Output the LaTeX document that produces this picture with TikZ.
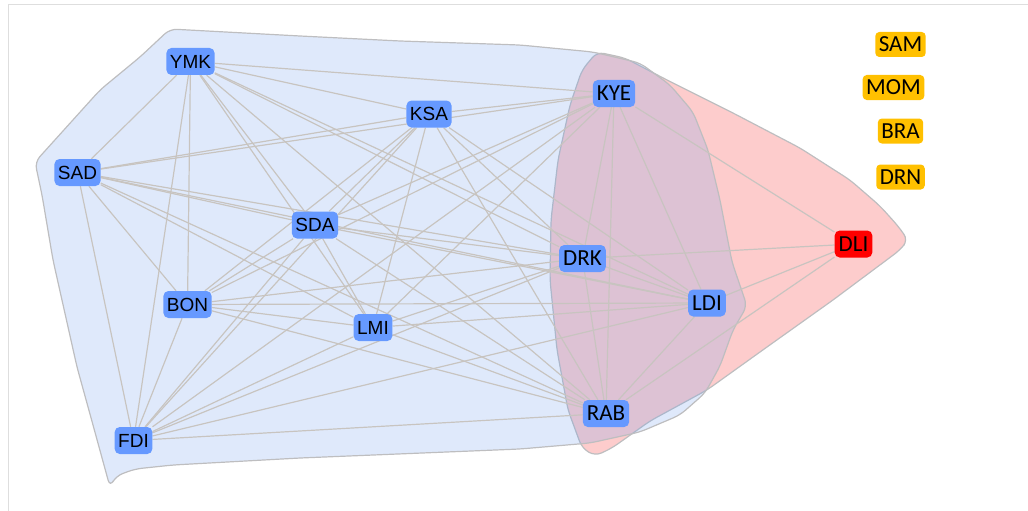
\documentclass[tikz,border=0pt]{standalone}
\usepackage{fontspec}
\setmainfont{Liberation Sans}
\newfontfamily\carl{Carlito}
\definecolor{edgegray}{RGB}{200,196,192}
\definecolor{hullline}{RGB}{190,190,192}
\definecolor{hullblue}{RGB}{116,161,239}
\definecolor{hullpink}{RGB}{253,204,204}
\definecolor{nodeblue}{RGB}{102,153,255}
\definecolor{nodeorange}{RGB}{255,192,0}
\definecolor{framegray}{RGB}{222,222,222}
\pgfdeclarelayer{back}
\pgfsetlayers{back,main}
\tikzset{
  edge/.style={draw=edgegray, line width=1.2pt},
  hull/.style={draw=hullline, line width=1.2pt, rounded corners=7pt},
  bnode/.style={fill=nodeblue, rounded corners=5pt, minimum height=27pt, inner xsep=3.5pt, inner ysep=0pt, text=black, font=\fontsize{19}{19}\selectfont},
  cnode/.style={bnode, inner xsep=4pt, font=\carl\fontsize{23}{23}\selectfont},
  rnode/.style={cnode, fill=red},
  onode/.style={cnode, fill=nodeorange, minimum height=25pt, rounded corners=4pt, inner xsep=3.5pt}
}
\begin{document}
\begin{tikzpicture}[x=1pt,y=-1pt]
\useasboundingbox (0,0) rectangle (1028,511);
\draw[framegray, line width=1pt] (8,511) -- (8,5) -- (1028,5);
% hulls
\begin{pgfonlayer}{back}
\path[hull, fill=hullpink]
 (597,52) -- (625,58) -- (667,80) -- (733,113) -- (800,148) -- (850,180) -- (880,206) -- (898,226) -- (908,240) -- (900,250)
 -- (833,300) -- (767,347) -- (707,390) -- (650,421) -- (612,448) -- (595,456) -- (582,448) -- (568,410)
 -- (557,350) -- (550,280) -- (551,220) -- (558,160) -- (570,105) -- (582,70) -- cycle;
\path[hull, fill=hullblue, fill opacity=0.23]
 (170,29) -- (300,36) -- (400,41) -- (520,45) -- (593,52) -- (640,63) -- (670,85) -- (693,112) -- (708,150)
 -- (720,200) -- (732,262) -- (747,306) -- (733,330) -- (720,366) -- (705,393) -- (680,415) -- (640,432)
 -- (590,443) -- (520,449) -- (300,458) -- (173,465) -- (135,469) -- (116,476) -- (110,487) -- (93,425) -- (77,367)
 -- (53,260) -- (42,195) -- (35,162) -- (100,90) -- (140,57) -- cycle;
\end{pgfonlayer}
% nodes
\node[bnode] (ymk) at (190.5,61.5) {YMK};
\node[bnode] (ksa) at (429,114) {KSA};
\node[bnode] (sad) at (77.5,172.5) {SAD};
\node[bnode] (sda) at (315,225) {SDA};
\node[bnode] (bon) at (187.5,304.5) {BON};
\node[bnode] (lmi) at (373,327.5) {LMI};
\node[bnode] (fdi) at (133.5,440.5) {FDI};
\node[cnode] (kye) at (614,93.5) {KYE};
\node[cnode] (drk) at (582.5,258.5) {DRK};
\node[cnode] (ldi) at (707,303) {LDI};
\node[cnode] (rab) at (606,413.5) {RAB};
\node[rnode] (dli) at (853.5,244) {DLI};
\node[onode] (sam) at (900.5,44.5) {SAM};
\node[onode] (mom) at (893.5,87.5) {MOM};
\node[onode] (bra) at (900.5,131) {BRA};
\node[onode] (drn) at (900.5,177) {DRN};
% edges
\begin{pgfonlayer}{back}
\foreach \a [count=\i] in {ymk,ksa,sad,sda,kye,drk,ldi,rab,bon,lmi,fdi}{
  \foreach \b [count=\j] in {ymk,ksa,sad,sda,kye,drk,ldi,rab,bon,lmi,fdi}{
    \ifnum\j>\i \draw[edge] (\a) -- (\b); \fi
  }
}
\foreach \b in {kye,drk,ldi,rab}{ \draw[edge] (dli) -- (\b); }
\end{pgfonlayer}
\end{tikzpicture}
\end{document}
